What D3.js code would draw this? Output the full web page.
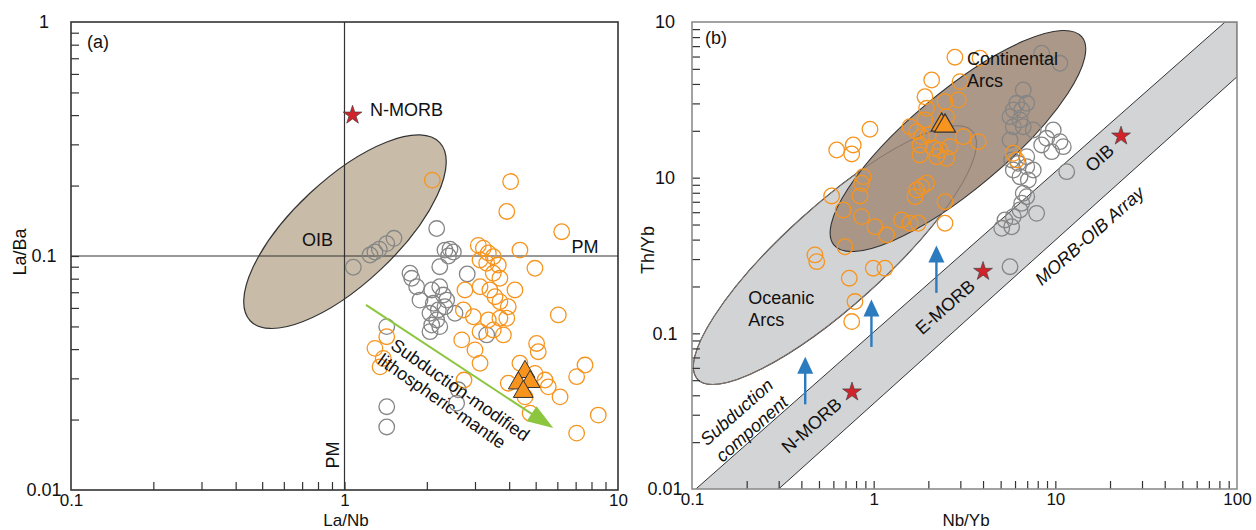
<!DOCTYPE html>
<html><head><meta charset="utf-8">
<script src="https://cdn.jsdelivr.net/npm/d3@7"></script>
<style>
body{margin:0;background:#fff}
svg text{font-family:"Liberation Sans",Arial,Helvetica,sans-serif;fill:#111}
</style>
</head><body>
<svg id="chart" width="1256" height="530"></svg>
<script>
// ---------------- DATA ----------------
// Panel (a): La/Nb (x) vs La/Ba (y)
const aGray = [
[1.077,0.0895],[1.24,0.101],[1.292,0.104],[1.34,0.107],[1.427,0.113],[1.517,0.119],
[2.173,0.131],[2.33,0.106],[2.43,0.107],[2.50,0.104],[2.40,0.100],[2.23,0.090],
[1.736,0.0844],[1.761,0.0803],[1.836,0.0739],[1.888,0.0648],[2.084,0.0716],[2.23,0.0739],
[2.297,0.0681],[2.364,0.0648],[2.33,0.0607],[2.203,0.0588],[2.112,0.0628],[2.054,0.0569],
[2.173,0.0533],[2.084,0.0507],[2.23,0.0499],[2.054,0.0475],[2.535,0.0569],[2.81,0.0838],
[3.31,0.046],[1.427,0.0499],[1.427,0.0227],[1.427,0.0186],[2.607,0.0268],[2.57,0.0235]];
const aOrange = [
[2.094,0.211],[4.05,0.208],[3.92,0.155],[6.225,0.127],[3.085,0.111],[3.218,0.108],[3.356,0.103],
[3.50,0.0993],[3.13,0.0961],[3.31,0.0931],[3.65,0.0915],[3.50,0.0844],[3.70,0.0803],[4.38,0.106],
[4.97,0.0886],[2.757,0.0716],[3.13,0.0739],[3.40,0.0716],[3.55,0.067],[3.70,0.0638],[4.20,0.0716],
[3.97,0.0607],[2.72,0.0588],[2.958,0.055],[3.356,0.0533],[3.70,0.0542],[3.92,0.0542],[3.13,0.0475],
[3.50,0.0483],[3.81,0.046],[6.05,0.056],[2.683,0.0438],[3.0,0.0397],[3.13,0.0348],[5.04,0.0423],
[5.11,0.039],[4.38,0.0348],[4.97,0.0315],[7.575,0.0342],[7.06,0.0305],[5.41,0.0295],[5.56,0.0276],
[6.14,0.025],[3.97,0.0286],[4.57,0.025],[4.77,0.0213],[8.47,0.0209],[7.06,0.0175],[1.292,0.0403],
[1.386,0.0365],[1.349,0.0336],[1.427,0.0452],[2.735,0.0295]];
const aTriangles = [[4.57,0.032],[4.32,0.0286],[4.77,0.029],[4.505,0.0263]];
const aStars = [[1.07,0.40]];
const aPM = [1, 0.1];                       // PM La/Nb, La/Ba reference lines
const aOIBEllipse = [[1.004,0.127],[2.23,0.305],0.40]; // centre, major-axis tip, minor/major
const aArrow = [[1.198,0.0618],[5.80,0.0184]];
const aXTicks = [0.1,1,10], aXTickLabels = ["0.1","1","10"];
const aYTicks = [0.01,0.1,1], aYTickLabels = ["0.01","0.1","1"];
const aLabels = [
  {t:"(a)", x:0.1144, y:0.821, anchor:"start", rot:0},
  {t:"N-MORB", x:1.24, y:0.42, anchor:"start", rot:0},
  {t:"OIB", x:0.797, y:0.117, anchor:"middle", rot:0},
  {t:"PM", x:7.575, y:0.1096, anchor:"middle", rot:0},
  {t:"PM", x:0.908, y:0.0141, anchor:"middle", rot:-90},
  {t:"Subduction-modified", x:2.65, y:0.0268, anchor:"middle", rot:35},
  {t:"lithospheric-mantle", x:2.27, y:0.024, anchor:"middle", rot:35}];

// Panel (b): Nb/Yb (x) vs Th/Yb (y)
const bOrange = [
[2.80,5.94],[3.85,5.85],[2.086,4.24],[2.99,4.14],[1.916,3.31],[2.47,3.08],[2.92,3.16],[1.957,2.79],
[2.52,2.465],[1.916,2.35],[1.585,2.126],[1.725,1.975],[1.837,1.834],[2.0,1.88],[1.798,1.622],
[2.13,1.545],[2.317,1.506],[2.63,1.582],[3.113,1.834],[3.765,1.703],[1.798,1.399],[2.223,1.364],
[2.52,1.332],[0.954,2.046],[0.626,1.506],[0.772,1.622],[0.757,1.42],[0.876,1.015],[0.859,0.921],
[0.587,0.763],[0.841,0.763],[0.68,0.62],[0.859,0.562],[1.017,0.484],[1.179,0.428],[1.426,0.535],
[1.585,0.5095],[1.76,0.5095],[1.725,0.834],[1.837,0.875],[1.957,0.921],[1.688,0.755],[2.47,0.701],
[2.47,0.5095],[0.695,0.36],[0.475,0.319],[0.486,0.2887],[0.995,0.262],[1.154,0.262],[0.734,0.226],
[0.789,0.16],[0.757,0.119],[5.87,1.435],[6.13,1.3]];
const bGray = [
[8.41,6.30],[10.6,5.43],[6.66,3.66],[6.13,3.005],[6.96,3.005],[5.87,2.72],[6.53,2.72],[5.63,2.465],
[6.39,2.35],[6.66,2.126],[5.87,2.126],[7.56,2.025],[9.74,2.025],[8.96,1.79],[10.6,1.703],[11.06,1.582],
[8.41,1.622],[9.55,1.469],[11.55,1.093],[5.63,1.747],[5.75,1.3],[6.25,1.237],[6.96,1.177],[7.56,1.12],
[5.87,1.12],[6.39,1.015],[7.1,0.966],[6.66,0.794],[6.96,0.755],[6.53,0.685],[6.39,0.62],[7.89,0.59],
[5.28,0.535],[5.07,0.473],[5.75,0.484],[5.87,0.562],[5.63,0.268],[6.96,1.364]];
const bTriangles = [[2.367,2.18],[2.47,2.148]];
const bStars = [[0.76,0.042],[4.0,0.25],[23,1.85]];
const bArray = [[0.105,0.01],[86,10],[100,10],[100,4.45],[0.3,0.01]]; // MORB-OIB array band
const bOceanicEllipse = [[0.612,0.318],[3.50,1.99],0.27];
const bContinentalEllipse = [[2.91,1.72],[14.0,8.02],0.30];
const bArrows = [[0.42,0.035,0.0706],[0.972,0.0818,0.165],[2.215,0.182,0.367]]; // x, y from, y to
const bXTicks = [0.1,1,10,100], bXTickLabels = ["0.1","1","10","100"];
const bYTicks = [0.01,0.1,1,10], bYTickLabels = ["0.01","0.1","10","10"];
const bLabels = [
  {t:"(b)", x:0.118, y:7.89, anchor:"start", rot:0, it:false},
  {t:"Continental", x:3.26, y:5.79, anchor:"start", rot:0, it:false},
  {t:"Arcs", x:3.26, y:4.18, anchor:"start", rot:0, it:false},
  {t:"Oceanic", x:0.204, y:0.1688, anchor:"start", rot:0, it:false},
  {t:"Arcs", x:0.204, y:0.1218, anchor:"start", rot:0, it:false},
  {t:"Subduction", x:0.176, y:0.0313, anchor:"middle", rot:"band", it:true},
  {t:"component", x:0.2133, y:0.0244, anchor:"middle", rot:"band", it:true},
  {t:"N-MORB", x:0.455, y:0.0256, anchor:"middle", rot:"band", it:false},
  {t:"E-MORB", x:2.475, y:0.148, anchor:"middle", rot:"band", it:false},
  {t:"OIB", x:17.5, y:1.339, anchor:"middle", rot:"band", it:false},
  {t:"MORB-OIB Array", x:15.42, y:0.423, anchor:"middle", rot:"band", it:true}];

// ---------------- DRAW ----------------
const svg = d3.select("#chart");
const ORANGE = "#f7941d", GRAY = "#858585", STAR = "#d2232a";

const xA = d3.scaleLog().domain([0.1,10]).range([71,618]);
const yA = d3.scaleLog().domain([0.01,1]).range([490,22]);
const xB = d3.scaleLog().domain([0.1,100]).range([692,1237]);
const yB = d3.scaleLog().domain([0.01,10]).range([489,22]);

function ellipse(g, xs, ys, e, fill, stroke, sw, extra) {
  const [c, t, r] = e;
  const cx = xs(c[0]), cy = ys(c[1]), tx = xs(t[0]), ty = ys(t[1]);
  const a = Math.hypot(tx-cx, ty-cy), ang = Math.atan2(ty-cy, tx-cx)*180/Math.PI;
  const el = g.append("ellipse").attr("cx",cx).attr("cy",cy).attr("rx",a).attr("ry",a*r)
    .attr("transform",`rotate(${ang},${cx},${cy})`)
    .attr("fill",fill).attr("stroke",stroke).attr("stroke-width",sw);
  if (extra) extra(el);
  return el;
}

function axes(g, xs, ys, xt, xl, yt, yl, xPad, frameColor) {
  const [x0,x1] = xs.range(), [y0,y1] = ys.range();
  const minorX = xs.ticks().filter(v => v > xs.domain()[0]*1.001 && v < xs.domain()[1]*0.999);
  const minorY = ys.ticks().filter(v => v > ys.domain()[0]*1.001 && v < ys.domain()[1]*0.999);
  g.append("g").attr("transform",`translate(0,${y0})`)
    .call(d3.axisBottom(xs).tickValues(minorX).tickSize(-8).tickFormat(""))
    .call(s => { s.select(".domain").remove(); s.selectAll("line").attr("stroke","#333").attr("stroke-width",1.2); });
  g.append("g").attr("transform",`translate(${x0},0)`)
    .call(d3.axisLeft(ys).tickValues(minorY).tickSize(-8).tickFormat(""))
    .call(s => { s.select(".domain").remove(); s.selectAll("line").attr("stroke","#333").attr("stroke-width",1.2); });
  g.append("g").attr("transform",`translate(0,${y0})`)
    .call(d3.axisBottom(xs).tickValues(xt).tickSize(0).tickPadding(xPad).tickFormat((d,i)=>xl[i]))
    .call(s => { s.select(".domain").remove();
      s.selectAll("text").attr("font-size",17).attr("font-family","Liberation Sans, Arial, sans-serif").attr("fill","#111"); });
  g.append("g").attr("transform",`translate(${x0},0)`)
    .call(d3.axisLeft(ys).tickValues(yt).tickSize(0).tickFormat((d,i)=>yl[i]))
    .call(s => { s.select(".domain").remove();
      s.selectAll("text").attr("font-size",18).attr("text-anchor","middle").attr("x",-27)
       .attr("font-family","Liberation Sans, Arial, sans-serif").attr("fill","#111"); });
  g.append("rect").attr("x",x0).attr("y",y1).attr("width",x1-x0).attr("height",y0-y1)
    .attr("fill","none").attr("stroke",frameColor).attr("stroke-width",1.6);
}

function circles(g, data, xs, ys, color) {
  g.append("g").selectAll("circle").data(data).join("circle")
    .attr("cx",d=>xs(d[0])).attr("cy",d=>ys(d[1])).attr("r",7.8)
    .attr("fill","none").attr("stroke",color).attr("stroke-width",1.3);
}
function symbols(g, data, xs, ys, type, size, fill, stroke, sw) {
  g.append("g").selectAll("path").data(data).join("path")
    .attr("d", d3.symbol().type(type).size(size))
    .attr("transform",d=>`translate(${xs(d[0])},${ys(d[1])})`)
    .attr("fill",fill).attr("stroke",stroke).attr("stroke-width",sw);
}
function arrow(g, p0, p1, color, sw, headLen, headHalf) {
  const dx = p1[0]-p0[0], dy = p1[1]-p0[1], L = Math.hypot(dx,dy), ux = dx/L, uy = dy/L;
  const bx = p1[0]-ux*headLen, by = p1[1]-uy*headLen;
  g.append("line").attr("x1",p0[0]).attr("y1",p0[1]).attr("x2",bx+ux*2).attr("y2",by+uy*2)
    .attr("stroke",color).attr("stroke-width",sw);
  g.append("path").attr("d",`M${p1[0]},${p1[1]}L${bx-uy*headHalf},${by+ux*headHalf}L${bx+uy*headHalf},${by-ux*headHalf}Z`)
    .attr("fill",color);
}

// ----- Panel A -----
const gA = svg.append("g");
svg.append("clipPath").attr("id","clipA").append("rect")
  .attr("x",71).attr("y",22).attr("width",547).attr("height",468);
const pA = gA.append("g").attr("clip-path","url(#clipA)");
ellipse(pA, xA, yA, aOIBEllipse, "#c8bca9", "#333", 1.2);
pA.append("line").attr("x1",xA(aPM[0])).attr("x2",xA(aPM[0])).attr("y1",yA.range()[0]).attr("y2",yA.range()[1])
  .attr("stroke","#333").attr("stroke-width",1.2);
pA.append("line").attr("x1",xA.range()[0]).attr("x2",xA.range()[1]).attr("y1",yA(aPM[1])).attr("y2",yA(aPM[1]))
  .attr("stroke","#333").attr("stroke-width",1.2);
circles(pA, aGray, xA, yA, GRAY);
circles(pA, aOrange, xA, yA, ORANGE);
symbols(pA, aTriangles, xA, yA, d3.symbolTriangle, 170, ORANGE, "#333", 1);
arrow(pA, [xA(aArrow[0][0]), yA(aArrow[0][1])], [xA(aArrow[1][0]), yA(aArrow[1][1])], "#8cc63f", 2, 26, 9);
symbols(pA, aStars, xA, yA, d3.symbolStar, 110, STAR, "#444", 0.7);
aLabels.forEach(l => {
  const x = xA(l.x), y = yA(l.y);
  gA.append("text").attr("x",x).attr("y",y).attr("dy","0.35em").attr("text-anchor",l.anchor)
    .attr("font-size",18).attr("transform",l.rot ? `rotate(${l.rot},${x},${y})` : null).text(l.t);
});
axes(gA, xA, yA, aXTicks, aXTickLabels, aYTicks, aYTickLabels, 4, "#333");
gA.append("text").attr("x",346).attr("y",526.3).attr("text-anchor","middle").attr("font-size",17).text("La/Nb");
gA.append("text").attr("transform","translate(20,252) rotate(-90)").attr("dy","0.35em")
  .attr("text-anchor","middle").attr("font-size",18).text("La/Ba");

// ----- Panel B -----
const gB = svg.append("g");
svg.append("clipPath").attr("id","clipB").append("rect")
  .attr("x",692).attr("y",22).attr("width",545).attr("height",467);
const pB = gB.append("g").attr("clip-path","url(#clipB)");
pB.append("path").datum(bArray)
  .attr("d", d3.line().x(d=>xB(d[0])).y(d=>yB(d[1]))).attr("fill","#d3d4d6").attr("stroke","#333").attr("stroke-width",1);
ellipse(pB, xB, yB, bOceanicEllipse, "#d2d3d5", "#333", 1.1);
ellipse(pB, xB, yB, bContinentalEllipse, "#a79283", "#333", 1.1, el => el.attr("fill-opacity",0.95));
ellipse(pB, xB, yB, bOceanicEllipse, "none", "#857870", 0.9);
circles(pB, bGray, xB, yB, GRAY);
circles(pB, bOrange, xB, yB, ORANGE);
symbols(pB, bTriangles, xB, yB, d3.symbolTriangle, 190, ORANGE, "#333", 1.2);
symbols(pB, bStars, xB, yB, d3.symbolStar, 110, STAR, "#444", 0.7);
bArrows.forEach(a => arrow(pB, [xB(a[0]), yB(a[1])], [xB(a[0]), yB(a[2])], "#2b7bbf", 2.4, 17, 8));
const bandAngle = Math.atan2(yB(bArray[1][1]) - yB(bArray[0][1]), xB(bArray[1][0]) - xB(bArray[0][0])) * 180/Math.PI;
bLabels.forEach(l => {
  const x = xB(l.x), y = yB(l.y), r = l.rot === "band" ? bandAngle : l.rot;
  gB.append("text").attr("x",x).attr("y",y).attr("dy","0.35em").attr("text-anchor",l.anchor)
    .attr("font-size",18).attr("font-style",l.it ? "italic" : null)
    .attr("transform",r ? `rotate(${r},${x},${y})` : null).text(l.t);
});
axes(gB, xB, yB, bXTicks, bXTickLabels, bYTicks, bYTickLabels, 4, "#8c8c8c");
gB.append("text").attr("x",966).attr("y",526.3).attr("text-anchor","middle").attr("font-size",17).text("Nb/Yb");
gB.append("text").attr("transform","translate(648,250) rotate(-90)").attr("dy","0.35em")
  .attr("text-anchor","middle").attr("font-size",18).text("Th/Yb");
</script>
</body></html>
